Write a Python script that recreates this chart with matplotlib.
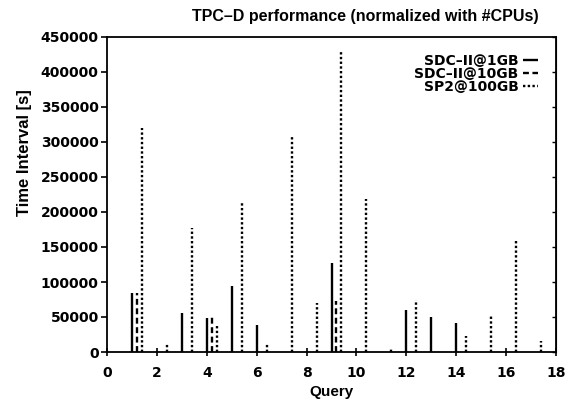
import numpy as np
import matplotlib.pyplot as plt

plt.rcParams['font.family'] = ['DejaVu Sans']

queries = np.arange(1, 18)
# time interval [s], normalized with #CPUs; nan = not measured
sdc_1gb = [85000, np.nan, 56000, 48500, 95000, 38000, np.nan, np.nan, 127000,
           np.nan, np.nan, 60500, 50000, 41500, np.nan, np.nan, np.nan]
sdc_10gb = [84500, np.nan, np.nan, 51000, np.nan, np.nan, np.nan, np.nan, 73500,
            np.nan, np.nan, np.nan, np.nan, np.nan, np.nan, np.nan, np.nan]
sp2_100gb = [320000, 13000, 177000, 40000, 213000, 13000, 307000, 70000, 428000,
             218500, 6000, 74500, np.nan, 22500, 53500, 159000, 16000]

series = [('SDC\u2013II@1GB', sdc_1gb, 0.0, '-'),
          ('SDC\u2013II@10GB', sdc_10gb, 0.2, (0, (2.5, 1.5))),
          ('SP2@100GB', sp2_100gb, 0.4, (0, (1, 1)))]

helv = ['Liberation Sans', 'DejaVu Sans']

fig = plt.figure(figsize=(5.75, 4.01), dpi=100)
ax = fig.add_axes([107 / 575, 1 - 352 / 401, 449 / 575, 315 / 401])

for name, vals, off, ls in series:
    v = np.array(vals, dtype=float)
    m = ~np.isnan(v)
    ax.vlines(queries[m] + off, 0, v[m], colors='black', linestyles=[ls],
              linewidth=1.7, label=name)

ax.set_xlim(0, 18)
ax.set_ylim(0, 450000)
ax.set_xticks(np.arange(0, 19, 2))
ax.set_yticks(np.arange(0, 450001, 50000))
ax.tick_params(axis='both', labelsize=10, width=1.2, length=4, pad=2)
ax.tick_params(axis='y', direction='out')
ax.tick_params(axis='x', direction='inout', length=6, pad=7)
for lab in ax.get_xticklabels() + ax.get_yticklabels():
    lab.set_fontweight('bold')
for s in ax.spines.values():
    s.set_linewidth(1.3)

# small inward ticks on the right border
right = ax.secondary_yaxis('right')
right.set_yticks(np.arange(0, 450001, 50000))
right.tick_params(direction='in', length=3, width=1, labelright=False)

ax.set_xlabel('Query', fontsize=11, fontweight='bold', family=helv, labelpad=4)
ax.set_ylabel('Time Interval [s]', fontsize=12, fontweight='bold', family=helv)
ax.yaxis.set_label_coords(-0.167, 0.632)
fig.text(365 / 575, 1 - 17 / 401, 'TPC\u2013D performance (normalized with #CPUs)',
         ha='center', va='center', fontsize=11.5, fontweight='bold', family=helv)

leg = ax.legend(loc='upper right', bbox_to_anchor=(0.96, 0.945), frameon=False,
                markerfirst=False, handlelength=1.1, handletextpad=0.3,
                labelspacing=-0.1, borderaxespad=0, borderpad=0,
                prop={'size': 10, 'weight': 'bold'})
for t in leg.get_texts():
    t.set_ha('right')

fig.savefig('out.png', dpi=100)
